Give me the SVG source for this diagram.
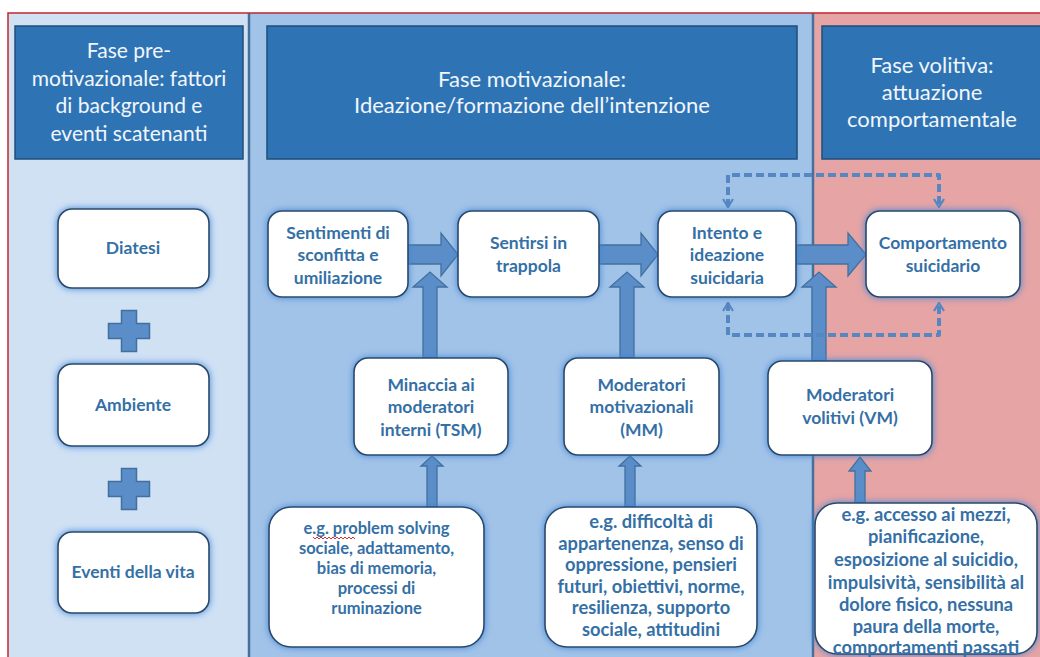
<svg xmlns="http://www.w3.org/2000/svg" width="1040" height="657" viewBox="0 0 1040 657">
<defs>
<style>
.hdr{fill:#2e74b5;stroke:#1f4e79;stroke-width:1.5}
.ht{font-family:Lato,"Open Sans",sans-serif;font-size:22px;fill:#f2f6fb;text-anchor:middle}
.ht2{font-size:21px}
.nd{fill:#ffffff;stroke:#2b4765;stroke-width:1.6;filter:url(#glow)}
.nt{font-family:Lato,"Open Sans",sans-serif;font-weight:bold;font-size:17.5px;fill:#3470a6;text-anchor:middle}
.bt{font-family:Lato,"Open Sans",sans-serif;font-weight:bold;font-size:18.3px;fill:#3470a6;text-anchor:middle}
.bt1{font-size:16.5px}
.arr{fill:#5b8ec8;stroke:#41709f;stroke-width:1.3;stroke-linejoin:miter}
.plus{fill:#5b8ec8;stroke:#41709f;stroke-width:1.5}
.dash{fill:none;stroke:#5587c2;stroke-width:4;stroke-dasharray:8 4;stroke-linejoin:round;marker-start:url(#chev);marker-end:url(#chev)}
.div{stroke:#44709c;stroke-width:2.5}
.spell{fill:none;stroke:#d03030;stroke-width:1}
</style>
<filter id="glow" x="-20%" y="-20%" width="140%" height="140%">
<feGaussianBlur in="SourceAlpha" stdDeviation="3.5" result="b"/>
<feFlood flood-color="#3f86d8" flood-opacity="1"/>
<feComposite in2="b" operator="in" result="g"/>
<feMerge><feMergeNode in="g"/><feMergeNode in="SourceGraphic"/></feMerge>
</filter>
<marker id="chev" viewBox="0 0 10 12" refX="9" refY="6" markerWidth="10" markerHeight="12" markerUnits="userSpaceOnUse" orient="auto-start-reverse">
<path d="M1,1 L9,6 L1,11" fill="none" stroke="#5587c2" stroke-width="2.2"/>
</marker>
</defs>
<rect x="0" y="0" width="1040" height="657" fill="#ffffff"/>
<g id="panels">
<rect x="8" y="13" width="241" height="644" fill="#d0e1f4"/>
<rect x="249" y="13" width="564" height="644" fill="#a2c3e8"/>
<rect x="813" y="13" width="227" height="644" fill="#e6a4a4"/>
<line class="div" x1="249" y1="13" x2="249" y2="657"/>
<line class="div" x1="813" y1="13" x2="813" y2="657"/>
<path d="M8,657 L8,13 L1040,13" fill="none" stroke="#c0282d" stroke-width="1.5"/>
</g>
<g id="hdr-pre">
<rect class="hdr" x="15" y="26" width="228" height="133"/>
<text class="ht ht2" x="129" y="58">Fase pre-</text>
<text class="ht ht2" x="129" y="86">motivazionale: fattori</text>
<text class="ht ht2" x="129" y="113">di background e</text>
<text class="ht ht2" x="129" y="141">eventi scatenanti</text>
</g>
<g id="hdr-mot">
<rect class="hdr" x="267" y="26" width="530" height="133"/>
<text class="ht" x="532" y="87">Fase motivazionale:</text>
<text class="ht" x="532" y="113">Ideazione/formazione dell’intenzione</text>
</g>
<g id="hdr-vol">
<rect class="hdr" x="822" y="26" width="222" height="133"/>
<text class="ht" x="932" y="73">Fase volitiva:</text>
<text class="ht" x="932" y="100">attuazione</text>
<text class="ht" x="932" y="127">comportamentale</text>
</g>
<g id="connectors">
<path class="arr" d="M408,245 H441 V233 L458,254.5 L441,276 V264 H408 Z"/>
<path class="arr" d="M599,245 H641 V233 L658,254.5 L641,276 V264 H599 Z"/>
<path class="arr" d="M796,245 H848 V233 L866,254.5 L848,276 V264 H796 Z"/>
<path class="arr" d="M423,358 V287 H413 L430,272 L447,287 H437 V358 Z"/>
<path class="arr" d="M620,358 V287 H610 L627,272 L644,287 H634 V358 Z"/>
<path class="arr" d="M812,361 V287 H802 L819,272 L836,287 H826 V361 Z"/>
<path class="arr" d="M427,507 V466 H421 L432,456 L443,466 H437 V507 Z"/>
<path class="arr" d="M625,507 V466 H619 L630,456 L641,466 H635 V507 Z"/>
<path class="arr" d="M855,503 V471 H849 L860,457 L871,471 H865 V503 Z"/>
<path class="dash" d="M728,207 V175 H939 V207"/>
<path class="dash" d="M728,303 V335 H939 V303"/>
</g>
<g id="plus1"><path class="plus" d="M121.5,310.5 h15 v13 h13 v15 h-13 v13 h-15 v-13 h-13 v-15 h13 Z"/></g>
<g id="plus2"><path class="plus" d="M121.5,468.5 h15 v13 h13 v15 h-13 v13 h-15 v-13 h-13 v-15 h13 Z"/></g>
<g id="n-diatesi">
<rect class="nd" x="58" y="209" width="151" height="79" rx="14"/>
<text class="nt" x="133" y="254">Diatesi</text>
</g>
<g id="n-ambiente">
<rect class="nd" x="58" y="364" width="151" height="82" rx="14"/>
<text class="nt" x="133" y="411">Ambiente</text>
</g>
<g id="n-eventi">
<rect class="nd" x="58" y="532" width="151" height="81" rx="14"/>
<text class="nt" x="133" y="578">Eventi della vita</text>
</g>
<g id="n-sentimenti">
<rect class="nd" x="268" y="211" width="140" height="86" rx="14"/>
<text class="nt" x="338" y="238.5">Sentimenti di</text>
<text class="nt" x="338" y="261">sconfitta e</text>
<text class="nt" x="338" y="283.5">umiliazione</text>
</g>
<g id="n-trappola">
<rect class="nd" x="458" y="211" width="141" height="86" rx="14"/>
<text class="nt" x="528.5" y="249">Sentirsi in</text>
<text class="nt" x="528.5" y="271.5">trappola</text>
</g>
<g id="n-intento">
<rect class="nd" x="658" y="211" width="138" height="86" rx="14"/>
<text class="nt" x="727" y="238.5">Intento e</text>
<text class="nt" x="727" y="261">ideazione</text>
<text class="nt" x="727" y="283.5">suicidaria</text>
</g>
<g id="n-comportamento">
<rect class="nd" x="866" y="211" width="154" height="86" rx="14"/>
<text class="nt" x="943" y="249">Comportamento</text>
<text class="nt" x="943" y="271.5">suicidario</text>
</g>
<g id="n-tsm">
<rect class="nd" x="354" y="358" width="154" height="97" rx="14"/>
<text class="nt" x="431" y="391">Minaccia ai</text>
<text class="nt" x="431" y="413">moderatori</text>
<text class="nt" x="431" y="436">interni (TSM)</text>
</g>
<g id="n-mm">
<rect class="nd" x="564" y="358" width="155" height="97" rx="14"/>
<text class="nt" x="641.5" y="391">Moderatori</text>
<text class="nt" x="641.5" y="413">motivazionali</text>
<text class="nt" x="641.5" y="436">(MM)</text>
</g>
<g id="n-vm">
<rect class="nd" x="768" y="361" width="164" height="94" rx="14"/>
<text class="nt" x="850" y="401">Moderatori</text>
<text class="nt" x="850" y="424">volitivi (VM)</text>
</g>
<g id="n-ex-tsm">
<rect class="nd" x="269" y="507" width="215" height="140" rx="22"/>
<text class="bt bt1" x="376.5" y="533.5">e.g. problem solving</text>
<text class="bt bt1" x="376.5" y="553.5">sociale, adattamento,</text>
<text class="bt bt1" x="376.5" y="573.5">bias di memoria,</text>
<text class="bt bt1" x="376.5" y="593.5">processi di</text>
<text class="bt bt1" x="376.5" y="613.5">ruminazione</text>
<path class="spell" d="M313,537 l2,2 l2,-2 l2,2 l2,-2 l2,2 l2,-2 l2,2 l2,-2 l2,2 l2,-2 l2,2 l2,-2 l2,2 l2,-2 l2,2 l2,-2 l2,2 l2,-2 l2,2 l2,-2 l2,2"/>
</g>
<g id="n-ex-mm">
<rect class="nd" x="545" y="507" width="212" height="140" rx="22"/>
<text class="bt" x="651" y="528">e.g. difficoltà di</text>
<text class="bt" x="651" y="549.5">appartenenza, senso di</text>
<text class="bt" x="651" y="571">oppressione, pensieri</text>
<text class="bt" x="651" y="593">futuri, obiettivi, norme,</text>
<text class="bt" x="651" y="614">resilienza, supporto</text>
<text class="bt" x="651" y="636">sociale, attitudini</text>
</g>
<g id="n-ex-vm">
<rect class="nd" x="815" y="503" width="222" height="151" rx="22"/>
<text class="bt" x="926" y="521">e.g. accesso ai mezzi,</text>
<text class="bt" x="926" y="543">pianificazione,</text>
<text class="bt" x="926" y="566">esposizione al suicidio,</text>
<text class="bt" x="926" y="589">impulsività, sensibilità al</text>
<text class="bt" x="926" y="611">dolore fisico,  nessuna</text>
<text class="bt" x="926" y="633">paura della morte,</text>
<text class="bt" x="926" y="654">comportamenti passati</text>
</g>
</svg>
